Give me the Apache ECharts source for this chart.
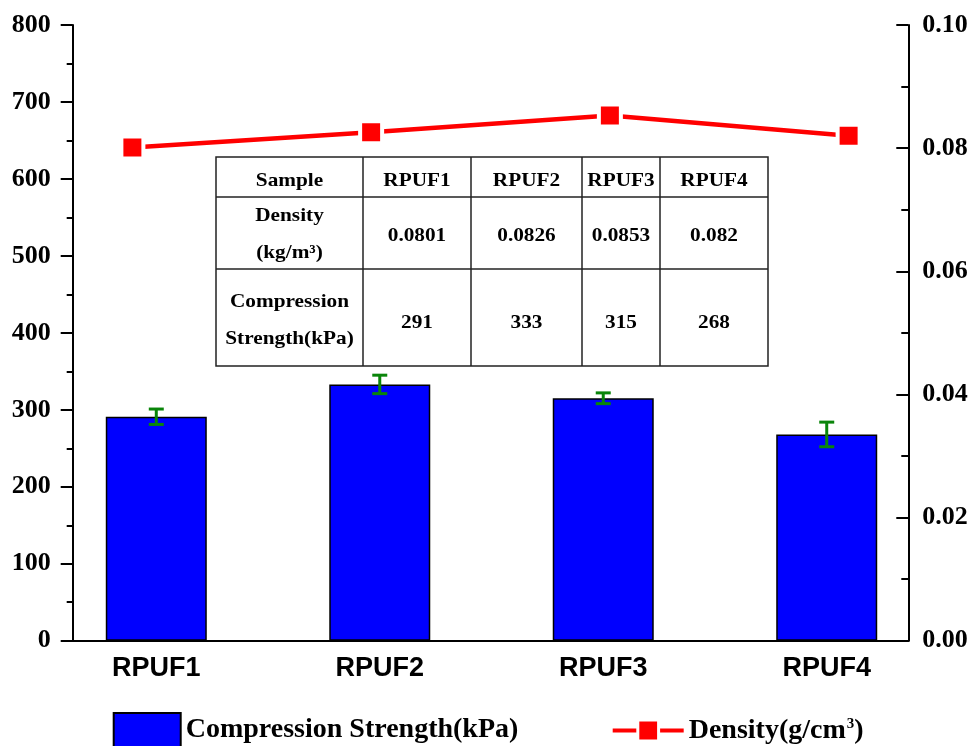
<!DOCTYPE html>
<html><head><meta charset="utf-8">
<script src="https://cdn.jsdelivr.net/npm/echarts@6/dist/echarts.min.js"></script>
<style>html,body{margin:0;padding:0;background:#fff}#c{width:973px;height:746px}</style>
</head><body><div id="c"></div>
<script>
const categories = ['RPUF1', 'RPUF2', 'RPUF3', 'RPUF4'];
const strength = [291, 333, 315, 268];
const strengthErr = [10, 12, 7, 16];
const density = [0.0801, 0.0826, 0.0853, 0.082];
const strengthName = 'Compression Strength(kPa)';
const densityName = 'Density';
const tableHeader = ['Sample'].concat(categories);

const SERIF = '"Liberation Serif","Times New Roman",serif';
const SANS = '"Liberation Sans",Arial,sans-serif';

const chart = echarts.init(document.getElementById('c'), null, {renderer: 'canvas'});

// table overlay
const colX = [216, 363, 471, 582, 660, 768];
const rowY = [157, 197, 269, 366];
const tbl = [];
tbl.push({type: 'rect', shape: {x: colX[0], y: rowY[0], width: colX[5] - colX[0], height: rowY[3] - rowY[0]},
  style: {fill: '#fff', stroke: '#222', lineWidth: 1.5}});
for (let r = 1; r < rowY.length - 1; r++) {
  tbl.push({type: 'line', shape: {x1: colX[0], y1: rowY[r], x2: colX[5], y2: rowY[r]}, style: {stroke: '#222', lineWidth: 1.5}});
}
for (let c = 1; c < colX.length - 1; c++) {
  tbl.push({type: 'line', shape: {x1: colX[c], y1: rowY[0], x2: colX[c], y2: rowY[3]}, style: {stroke: '#222', lineWidth: 1.5}});
}
function cellText(t, cx, cy) {
  return {type: 'text', x: cx, y: cy, scaleX: 1.12,
    style: {text: t, fill: '#000', font: 'bold 19px ' + SERIF, align: 'center', verticalAlign: 'middle'}};
}
for (let c = 0; c < 5; c++) {
  const cx = (colX[c] + colX[c + 1]) / 2;
  tbl.push(cellText(tableHeader[c], cx, 181));
  if (c === 0) {
    tbl.push(cellText('Density', cx, 216));
    tbl.push(cellText('(kg/m\u00B3)', cx, 253));
    tbl.push(cellText('Compression', cx, 302));
    tbl.push(cellText('Strength(kPa)', cx, 339));
  } else {
    tbl.push(cellText(String(density[c - 1]), cx, 236));
    tbl.push(cellText(String(strength[c - 1]), cx, 323));
  }
}

const option = {
  animation: false,
  backgroundColor: '#fff',
  grid: {left: 72.7, right: 64.7, top: 25, bottom: 105.3},
  legend: [
    {data: [{name: strengthName, icon: 'rect'}], left: 112.7, top: 712, padding: 0, itemWidth: 67, itemHeight: 34,
      textStyle: {fontFamily: SERIF, fontWeight: 'bold', fontSize: 28, color: '#000'}},
    {data: [densityName], left: 610.7, top: 716.5, padding: 0, itemWidth: 71, itemHeight: 26,
      lineStyle: {width: 4, color: '#ff0000'},
      itemStyle: {color: '#ff0000', borderColor: '#fff', borderWidth: 3},
      formatter: function () { return 'Density(g/cm{sup|3})'; },
      textStyle: {fontFamily: SERIF, fontWeight: 'bold', fontSize: 28, color: '#000',
        rich: {sup: {fontFamily: SERIF, fontWeight: 'bold', fontSize: 15, color: '#000', verticalAlign: 'top', padding: [0, 0, 0, 1]}}}}
  ],
  xAxis: [
    {type: 'value', min: 0.626, max: 4.365, position: 'bottom',
      axisLine: {show: true, lineStyle: {color: '#000', width: 2}},
      axisTick: {show: false}, splitLine: {show: false},
      axisLabel: {customValues: [1, 2, 3, 4], formatter: function (v) { return categories[Math.round(v) - 1] || ''; },
        fontFamily: SANS, fontWeight: 'bold', fontSize: 27, color: '#000', margin: 14}},
    {type: 'value', min: 0.75, max: 4.25, show: false}
  ],
  yAxis: [
    {type: 'value', min: 0, max: 800, interval: 100, position: 'left',
      axisLine: {show: true, lineStyle: {color: '#000', width: 2}},
      axisTick: {show: true, length: 12, lineStyle: {color: '#000', width: 2}},
      minorTick: {show: true, splitNumber: 2, length: 6, lineStyle: {color: '#000', width: 2}},
      splitLine: {show: false},
      axisLabel: {margin: 22, fontFamily: SERIF, fontWeight: 'bold', fontSize: 26, color: '#000'}},
    {type: 'value', min: 0, max: 0.1, interval: 0.02, position: 'right',
      axisLine: {show: true, lineStyle: {color: '#000', width: 2}},
      axisTick: {show: true, inside: true, length: 12, lineStyle: {color: '#000', width: 2}},
      minorTick: {show: true, splitNumber: 2, length: 7, lineStyle: {color: '#000', width: 2}},
      splitLine: {show: false},
      axisLabel: {margin: 14, fontFamily: SERIF, fontWeight: 'bold', fontSize: 26, color: '#000',
        formatter: function (v) { return v.toFixed(2); }}}
  ],
  series: [
    {name: strengthName, type: 'bar', xAxisIndex: 0, yAxisIndex: 0, barWidth: 101,
      data: strength.map(function (v, i) { return [i + 1, v]; }),
      itemStyle: {color: '#0000ff', borderColor: '#000', borderWidth: 1.5}},
    {name: 'err', type: 'custom', xAxisIndex: 0, yAxisIndex: 0, z: 4,
      data: strength.map(function (v, i) { return [i + 1, v - strengthErr[i], v + strengthErr[i]]; }),
      renderItem: function (params, api) {
        const lo = api.coord([api.value(0), api.value(1)]);
        const hi = api.coord([api.value(0), api.value(2)]);
        const hw = 7.5;
        const st = {stroke: '#0a850a', lineWidth: 3};
        return {type: 'group', children: [
          {type: 'line', shape: {x1: lo[0], y1: lo[1], x2: hi[0], y2: hi[1]}, style: st},
          {type: 'line', shape: {x1: lo[0] - hw, y1: lo[1], x2: lo[0] + hw, y2: lo[1]}, style: st},
          {type: 'line', shape: {x1: hi[0] - hw, y1: hi[1], x2: hi[0] + hw, y2: hi[1]}, style: st}
        ]};
      }},
    {name: densityName, type: 'line', xAxisIndex: 1, yAxisIndex: 1, z: 5,
      data: density.map(function (v, i) { return [i + 1, v]; }),
      symbol: 'rect', symbolSize: 22,
      itemStyle: {color: '#ff0000', borderColor: '#fff', borderWidth: 4},
      lineStyle: {color: '#ff0000', width: 4.5}}
  ],
  graphic: [{type: 'group', z: 10, children: tbl}]
};
chart.setOption(option);
</script>
</body></html>
